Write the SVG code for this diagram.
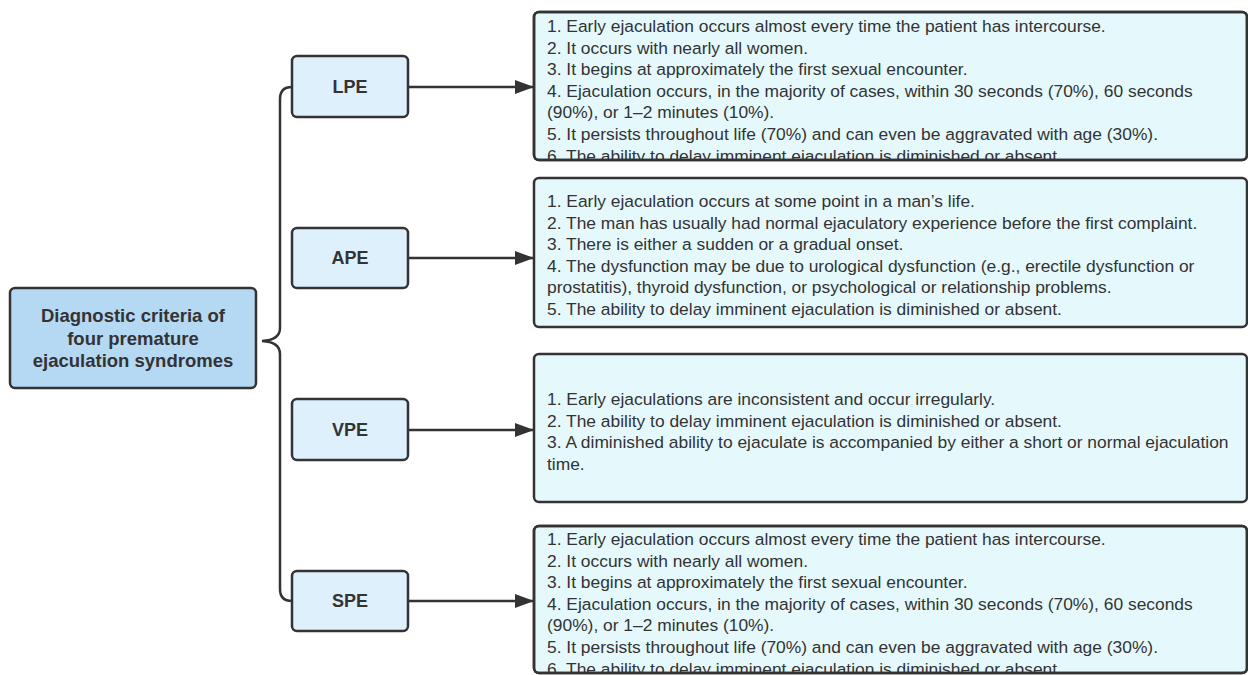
<svg xmlns="http://www.w3.org/2000/svg" width="1248" height="675" viewBox="0 0 1248 675">
  <defs>
    <style>
      .root { fill: #b5d8f3; stroke: #333; stroke-width: 2.5; }
      .child { fill: #dff0fd; stroke: #333; stroke-width: 2.5; }
      .detail { fill: #e5f9fd; stroke: #333; stroke-width: 2.5; }
      .bold { font-family: "Liberation Sans", Arial, sans-serif; font-weight: bold; fill: #333; text-anchor: middle; }
      .txt { font-family: "Liberation Sans", Arial, sans-serif; font-size: 17.4px; fill: #333; }
      .conn { fill: none; stroke: #333; stroke-width: 2.5; }
    </style>
    <marker id="arr" viewBox="0 0 19 14" refX="18" refY="7" markerWidth="19" markerHeight="14" orient="auto" markerUnits="userSpaceOnUse">
      <path d="M0,0 L19,7 L0,14 Z" fill="#333"/>
    </marker>
    <clipPath id="clipL"><rect x="534" y="12" width="713" height="148"/></clipPath>
    <clipPath id="clipS"><rect x="534" y="526" width="713" height="147"/></clipPath>
  </defs>
  <rect width="1248" height="675" fill="#fff"/>

  <g id="connectors">
    <path class="conn" d="M292,87 Q280,87 280,99 L280,328 Q280,340 262,341 Q280,342 280,354 L280,589 Q280,601 292,601"/>
    <line class="conn" x1="409" y1="87" x2="533" y2="87" marker-end="url(#arr)"/>
    <line class="conn" x1="409" y1="258" x2="533" y2="258" marker-end="url(#arr)"/>
    <line class="conn" x1="409" y1="430" x2="533" y2="430" marker-end="url(#arr)"/>
    <line class="conn" x1="409" y1="601" x2="533" y2="601" marker-end="url(#arr)"/>
  </g>

  <g id="root">
    <rect class="root" x="10" y="288" width="246" height="100" rx="5"/>
    <text class="bold" font-size="18.5" x="133" y="322">Diagnostic criteria of</text>
    <text class="bold" font-size="18.5" x="133" y="345">four premature</text>
    <text class="bold" font-size="18.5" x="133" y="367">ejaculation syndromes</text>
  </g>

  <g id="lpe">
    <rect class="child" x="292" y="56" width="116" height="61" rx="5"/>
    <text class="bold" font-size="18" x="350" y="93">LPE</text>
  </g>
  <g id="ape">
    <rect class="child" x="292" y="228" width="116" height="60" rx="5"/>
    <text class="bold" font-size="18" x="350" y="264">APE</text>
  </g>
  <g id="vpe">
    <rect class="child" x="292" y="399" width="116" height="61" rx="5"/>
    <text class="bold" font-size="18" x="350" y="436">VPE</text>
  </g>
  <g id="spe">
    <rect class="child" x="292" y="571" width="116" height="60" rx="5"/>
    <text class="bold" font-size="18" x="350" y="607">SPE</text>
  </g>

  <g id="lpe-detail">
    <rect class="detail" x="534" y="12" width="713" height="148" rx="5"/>
    <g clip-path="url(#clipL)">
      <text class="txt" x="547" y="32">1. Early ejaculation occurs almost every time the patient has intercourse.</text>
      <text class="txt" x="547" y="53.6">2. It occurs with nearly all women.</text>
      <text class="txt" x="547" y="75.2">3. It begins at approximately the first sexual encounter.</text>
      <text class="txt" x="547" y="96.8">4. Ejaculation occurs, in the majority of cases, within 30 seconds (70%), 60 seconds</text>
      <text class="txt" x="547" y="118.4">(90%), or 1–2 minutes (10%).</text>
      <text class="txt" x="547" y="140">5. It persists throughout life (70%) and can even be aggravated with age (30%).</text>
      <text class="txt" x="547" y="161.6">6. The ability to delay imminent ejaculation is diminished or absent.</text>
    </g>
    <rect x="534" y="12" width="713" height="148" rx="5" fill="none" stroke="#333" stroke-width="2.5"/>
  </g>

  <g id="ape-detail">
    <rect class="detail" x="534" y="178" width="713" height="149" rx="5"/>
    <text class="txt" x="547" y="207">1. Early ejaculation occurs at some point in a man’s life.</text>
    <text class="txt" x="547" y="228.6">2. The man has usually had normal ejaculatory experience before the first complaint.</text>
    <text class="txt" x="547" y="250.2">3. There is either a sudden or a gradual onset.</text>
    <text class="txt" x="547" y="271.8">4. The dysfunction may be due to urological dysfunction (e.g., erectile dysfunction or</text>
    <text class="txt" x="547" y="293.4">prostatitis), thyroid dysfunction, or psychological or relationship problems.</text>
    <text class="txt" x="547" y="315">5. The ability to delay imminent ejaculation is diminished or absent.</text>
  </g>

  <g id="vpe-detail">
    <rect class="detail" x="534" y="354" width="713" height="148" rx="5"/>
    <text class="txt" x="547" y="405">1. Early ejaculations are inconsistent and occur irregularly.</text>
    <text class="txt" x="547" y="426.6">2. The ability to delay imminent ejaculation is diminished or absent.</text>
    <text class="txt" x="547" y="448.2">3. A diminished ability to ejaculate is accompanied by either a short or normal ejaculation</text>
    <text class="txt" x="547" y="469.8">time.</text>
  </g>

  <g id="spe-detail">
    <rect class="detail" x="534" y="526" width="713" height="147" rx="5"/>
    <g clip-path="url(#clipS)">
      <text class="txt" x="547" y="545">1. Early ejaculation occurs almost every time the patient has intercourse.</text>
      <text class="txt" x="547" y="566.6">2. It occurs with nearly all women.</text>
      <text class="txt" x="547" y="588.2">3. It begins at approximately the first sexual encounter.</text>
      <text class="txt" x="547" y="609.8">4. Ejaculation occurs, in the majority of cases, within 30 seconds (70%), 60 seconds</text>
      <text class="txt" x="547" y="631.4">(90%), or 1–2 minutes (10%).</text>
      <text class="txt" x="547" y="653">5. It persists throughout life (70%) and can even be aggravated with age (30%).</text>
      <text class="txt" x="547" y="674.6">6. The ability to delay imminent ejaculation is diminished or absent.</text>
    </g>
    <rect x="534" y="526" width="713" height="147" rx="5" fill="none" stroke="#333" stroke-width="2.5"/>
  </g>
</svg>
